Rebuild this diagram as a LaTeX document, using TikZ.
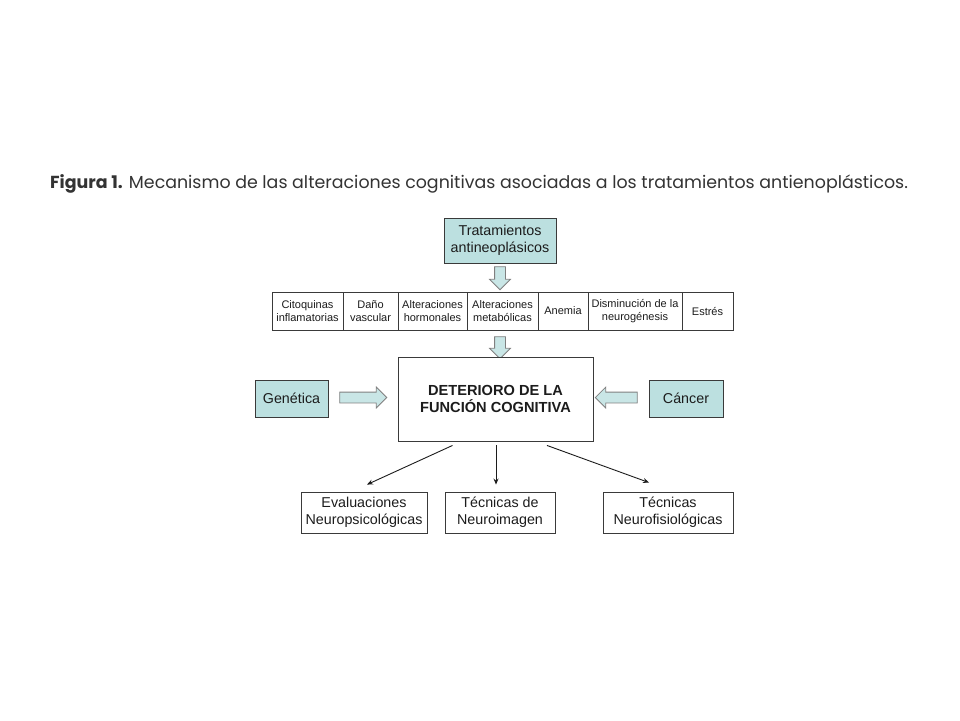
\documentclass[tikz,border=0pt]{standalone}
\usepackage{fontspec}
\setmainfont{Liberation Sans}
\newfontfamily\capfont{Poppins}
\usepackage{tikz}
\usetikzlibrary{arrows.meta, positioning, shapes.arrows}
\definecolor{mfill}{HTML}{BCE0E0}
\definecolor{mline}{HTML}{3A3A3A}
\definecolor{mtext}{HTML}{1C1C1C}
\definecolor{marrline}{HTML}{808080}
\definecolor{mcap}{HTML}{333333}
\tikzset{
  tbox/.style={draw=mline, fill=mfill, line width=0.9pt, align=center,
               inner sep=2pt, text=mtext, font=\fontsize{14.3}{17}\selectfont},
  wbox/.style={draw=mline, fill=white, line width=0.9pt, align=center,
               inner sep=2pt, text=mtext, font=\fontsize{14.3}{17}\selectfont},
  cell/.style={draw=mline, fill=white, line width=0.9pt, align=center,
               inner sep=1pt, text=mtext, minimum height=38pt,
               font=\fontsize{11}{13.5}\selectfont},
  barrow/.style={single arrow, draw=marrline, fill=mfill!80!white, line width=0.8pt,
                 inner sep=5pt, minimum width=20pt, single arrow head extend=5pt,
                 single arrow head indent=0pt},
  arr/.style={-{Stealth[length=6pt,width=5pt]}, line width=0.9pt, mtext},
}

\begin{document}
\begin{tikzpicture}[x=1pt, y=-1pt]
  \fill[white] (0,0) rectangle (960,720);
  \useasboundingbox (0,0) rectangle (960,720);

  %% Caption
  \node[anchor=base west, inner sep=0pt, text=mcap, font=\capfont\fontsize{17.4}{20}\selectfont] (cap) at (50,188)
    {\textbf{Figura 1.} Mecanismo de las alteraciones cognitivas asociadas a los tratamientos antienoplásticos.};

  %% Top
  \node[tbox, minimum width=112pt, minimum height=45pt] (trat) at (500,240.5) {Tratamientos\\antineoplásicos};
  \node[barrow, minimum height=23pt, rotate=-90] (a1) at (500,275.5) {};

  %% Row of mechanisms
  \node[cell, minimum width=71pt] (c1) at (307.5,311) {Citoquinas\\inflamatorias};
  \node[cell, minimum width=55pt] (c2) at (370.5,311) {Daño\\vascular};
  \node[cell, minimum width=69pt] (c3) at (432.5,311) {Alteraciones\\hormonales};
  \node[cell, minimum width=71pt] (c4) at (502.5,311) {Alteraciones\\metabólicas};
  \node[cell, minimum width=50pt] (c5) at (563,311) {Anemia};
  \node[cell, minimum width=94pt] (c6) at (635,311) {Disminución de la\\neurogénesis};
  \node[cell, minimum width=51pt] (c7) at (707.5,311) {Estrés};
  \node[barrow, minimum height=22pt, rotate=-90] (a2) at (500,345) {};

  %% Centre
  \node[wbox, minimum width=195pt, minimum height=84pt, font=\bfseries\fontsize{14.6}{17.5}\selectfont] (det) at (495.5,399)
    {DETERIORO DE LA\\FUNCIÓN COGNITIVA};
  \node[tbox, minimum width=73pt, minimum height=37pt] (gen) at (291.5,398.5) {Genética};
  \node[tbox, minimum width=74pt, minimum height=37pt] (can) at (686,398.5) {Cáncer};
  \node[barrow, minimum height=47pt] (a3) at (360.5,397.5) {};
  \node[barrow, minimum height=42pt, shape border rotate=180] (a4) at (619,397.5) {};

  %% Evaluation
  \node[wbox, minimum width=126pt, minimum height=41pt] (ev) at (364,512.5) {Evaluaciones\\Neuropsicológicas};
  \node[wbox, minimum width=110pt, minimum height=41pt] (img) at (500,512.5) {Técnicas de\\Neuroimagen};
  \node[wbox, minimum width=130pt, minimum height=41pt] (fis) at (668,512.5) {Técnicas\\Neurofisiológicas};
  \draw[arr] ([xshift=-43pt,yshift=-4pt]det.south) -- ([xshift=3pt,yshift=7pt]ev.north);
  \draw[arr] ([xshift=0.5pt,yshift=-4pt]det.south) -- ([xshift=-4pt,yshift=7pt]img.north);
  \draw[arr] ([xshift=51.5pt,yshift=-4pt]det.south) -- ([xshift=-19pt,yshift=9pt]fis.north);
\end{tikzpicture}
\end{document}
